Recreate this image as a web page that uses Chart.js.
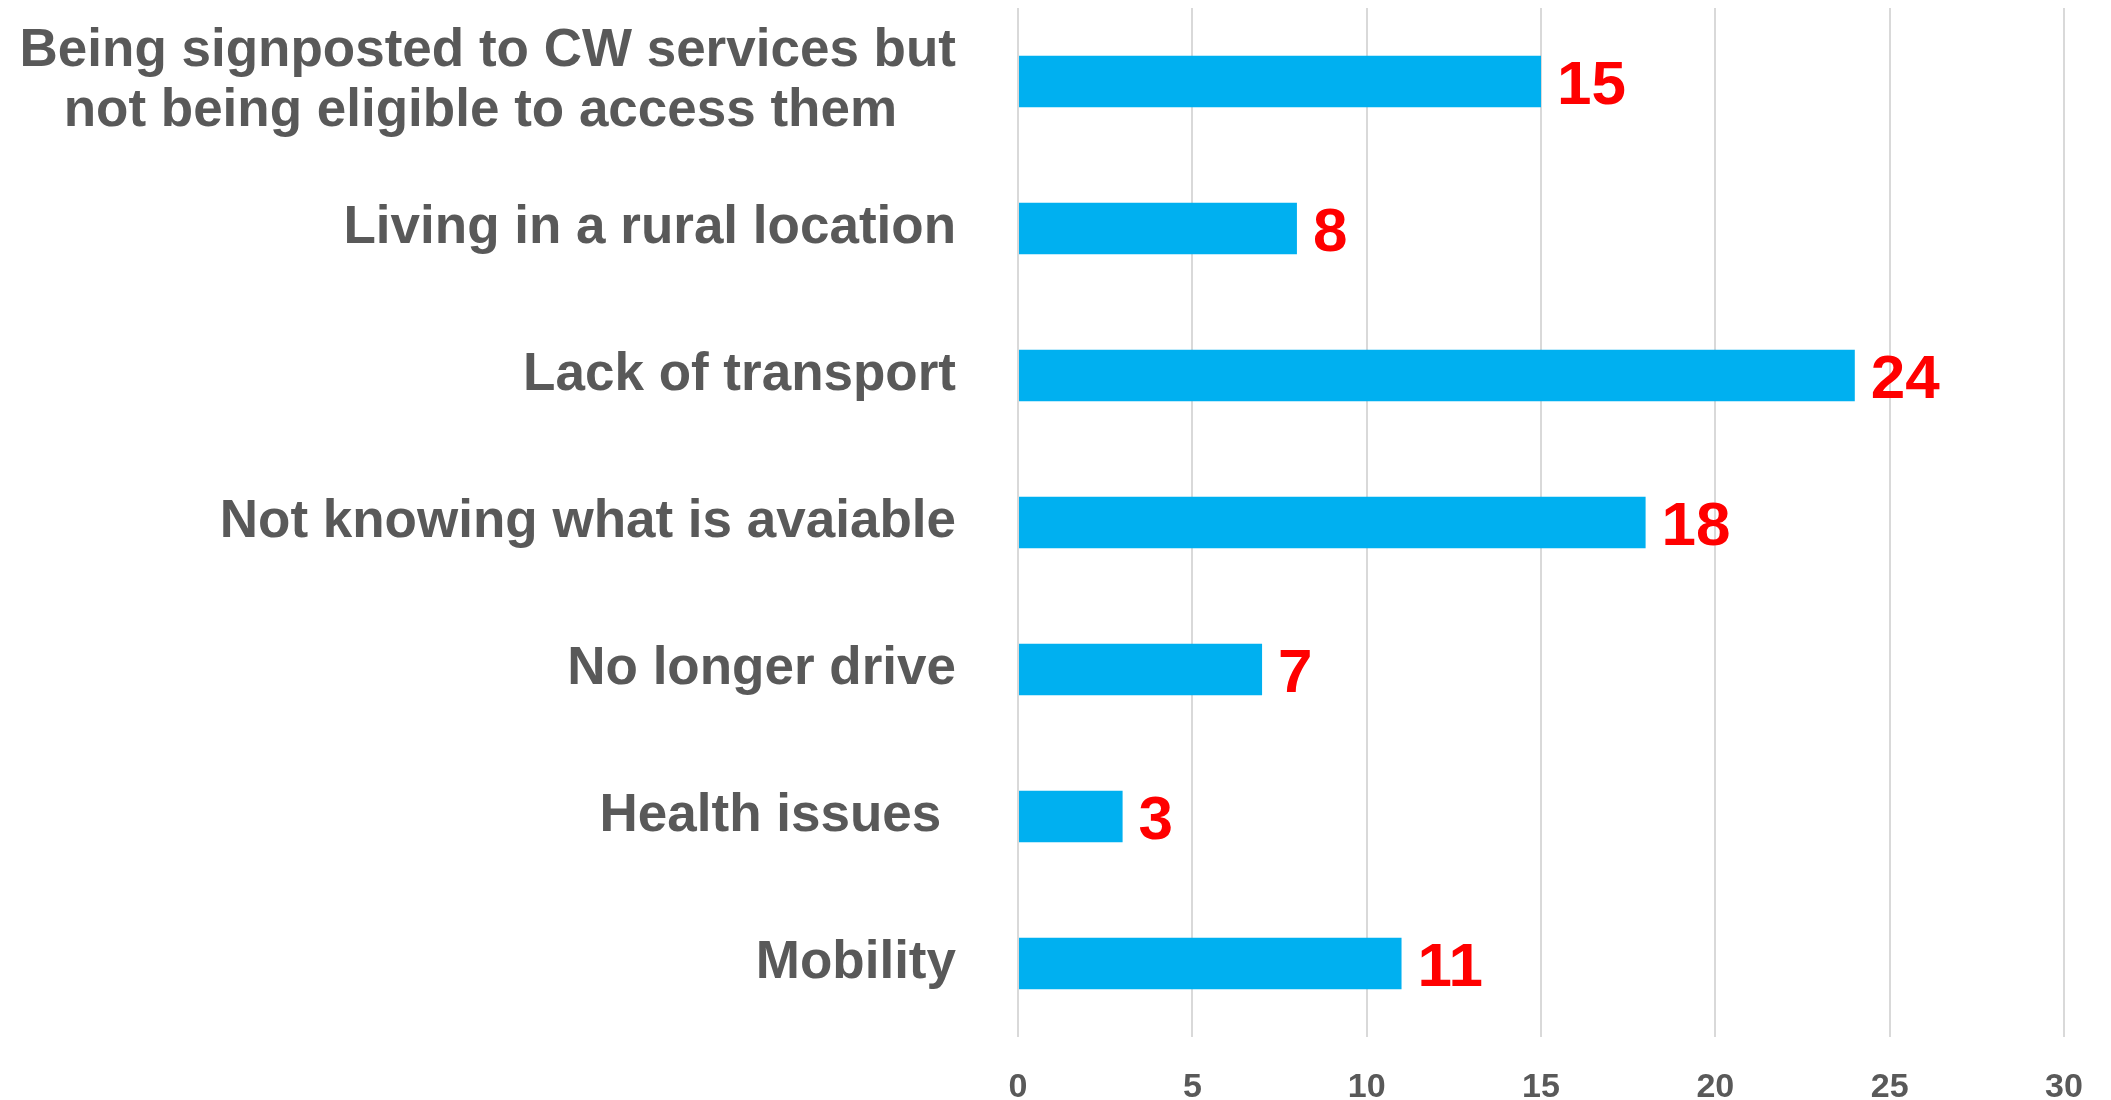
<!DOCTYPE html>
<html>
<head>
<meta charset="utf-8">
<script src="https://cdn.jsdelivr.net/npm/chart.js@4"></script>
<style>
  html, body { margin: 0; padding: 0; background: #fff; }
  #wrap { width: 2111px; height: 1100px; position: relative; }
</style>
</head>
<body>
<div id="wrap"><canvas id="barrierBar"></canvas></div>
<script>
// categories, top to bottom
const categories = [
    ["Being signposted to CW services but", "not being eligible to access them    "],
    "Living in a rural location",
    "Lack of transport",
    "Not knowing what is avaiable",
    "No longer drive",
    "Health issues ",
    "Mobility"
];
const counts = [15, 8, 24, 18, 7, 3, 11];
const xTicks = [0, 5, 10, 15, 20, 25, 30];

// red value labels to the right of each bar
const valueLabels = {
    id: 'valueLabels',
    afterDatasetsDraw(chart) {
        const ctx = chart.ctx;
        const meta = chart.getDatasetMeta(0);
        ctx.save();
        ctx.fillStyle = '#FF0000';
        ctx.font = 'bold 62px "Liberation Sans", Arial, sans-serif';
        ctx.textAlign = 'left';
        ctx.textBaseline = 'alphabetic';
        meta.data.forEach(function (bar, i) {
            ctx.fillText(String(counts[i]), bar.x + 16, bar.y + 22);
        });
        ctx.restore();
    }
};

const canvas = document.getElementById('barrierBar');
const ctx = canvas.getContext('2d');
new Chart(ctx, {
    type: 'bar',
    data: {
        labels: categories,
        datasets: [{
            data: counts,
            backgroundColor: '#00B0F0',
            borderWidth: 0,
            barPercentage: 0.35,
            categoryPercentage: 1
        }]
    },
    options: {
        indexAxis: 'y',
        responsive: true,
        maintainAspectRatio: false,
        animation: false,
        layout: {
            padding: { top: 8, right: 47, left: 0, bottom: 0 }
        },
        plugins: {
            legend: { display: false },
            tooltip: { enabled: false }
        },
        scales: {
            x: {
                min: 0,
                max: 30,
                afterBuildTicks: function (scale) {
                    scale.ticks = xTicks.map(v => ({ value: v }));
                },
                afterFit: function (scale) {
                    scale.height = 63;
                    scale.paddingLeft = 0;
                    scale.paddingRight = 0;
                },
                grid: {
                    color: '#D9D9D9',
                    lineWidth: 2,
                    drawTicks: false
                },
                border: { display: false },
                ticks: {
                    padding: 30,
                    color: '#595959',
                    font: { family: '"Liberation Sans Narrow", "Liberation Sans", sans-serif', size: 34, weight: 'bold' }
                }
            },
            y: {
                afterFit: function (scale) {
                    scale.width = 1018;
                    scale.paddingTop = 0;
                    scale.paddingBottom = 0;
                },
                grid: { display: false, drawTicks: false },
                border: { display: false },
                ticks: {
                    padding: 62,
                    color: '#595959',
                    font: { family: '"Liberation Sans", Arial, sans-serif', size: 53, weight: 'bold', lineHeight: 1.14 }
                }
            }
        }
    },
    plugins: [valueLabels]
});
</script>
</body>
</html>
